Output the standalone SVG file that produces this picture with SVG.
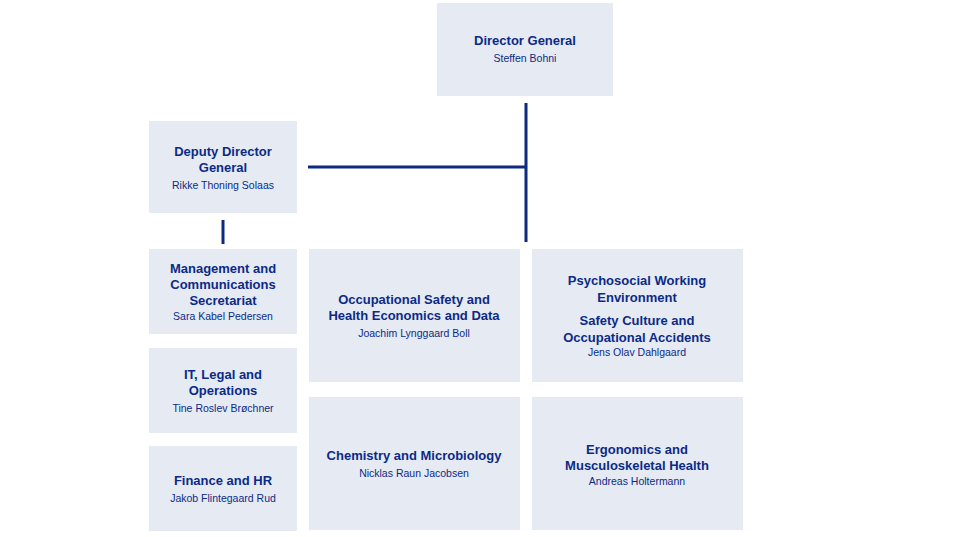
<svg xmlns="http://www.w3.org/2000/svg" width="955" height="537" viewBox="0 0 955 537">
<style>
.b{fill:#e6eaf3}
text{font-family:"Liberation Sans",Arial,sans-serif;fill:#0b2a87;text-anchor:middle}
.t{font-size:13px;font-weight:bold}
.s{font-size:10.5px}
.c{stroke:#0b2a80;stroke-width:3;fill:none}
</style>
<rect width="955" height="537" fill="#fff"/>
<g id="connectors">
<path class="c" d="M526 103V242M308 167H526M223 220V244"/>
</g>
<g id="dg"><rect class="b" x="437" y="3" width="176" height="93"/><text class="t" x="525" y="45">Director General</text><text class="s" x="525" y="62">Steffen Bohni</text></g>
<g id="ddg"><rect class="b" x="149" y="121" width="148" height="92"/><text class="t" x="223" y="156">Deputy Director</text><text class="t" x="223" y="172">General</text><text class="s" x="223" y="189">Rikke Thoning Solaas</text></g>
<g id="mgmt"><rect class="b" x="149" y="249" width="148" height="85"/><text class="t" x="223" y="273">Management and</text><text class="t" x="223" y="289">Communications</text><text class="t" x="223" y="305">Secretariat</text><text class="s" x="223" y="320">Sara Kabel Pedersen</text></g>
<g id="it"><rect class="b" x="149" y="348" width="148" height="85"/><text class="t" x="223" y="379">IT, Legal and</text><text class="t" x="223" y="395">Operations</text><text class="s" x="223" y="412">Tine Roslev Brøchner</text></g>
<g id="fin"><rect class="b" x="149" y="446" width="148" height="85"/><text class="t" x="223" y="485">Finance and HR</text><text class="s" x="223" y="502">Jakob Flintegaard Rud</text></g>
<g id="osh"><rect class="b" x="309" y="249" width="211" height="133"/><text class="t" x="414" y="304">Occupational Safety and</text><text class="t" x="414" y="320">Health Economics and Data</text><text class="s" x="414" y="337">Joachim Lynggaard Boll</text></g>
<g id="chem"><rect class="b" x="309" y="397" width="211" height="133"/><text class="t" x="414" y="460">Chemistry and Microbiology</text><text class="s" x="414" y="477">Nicklas Raun Jacobsen</text></g>
<g id="psych"><rect class="b" x="532" y="249" width="211" height="133"/><text class="t" x="637" y="285">Psychosocial Working</text><text class="t" x="637" y="302">Environment</text><text class="t" x="637" y="325">Safety Culture and</text><text class="t" x="637" y="342">Occupational Accidents</text><text class="s" x="637" y="356">Jens Olav Dahlgaard</text></g>
<g id="ergo"><rect class="b" x="532" y="397" width="211" height="133"/><text class="t" x="637" y="454">Ergonomics and</text><text class="t" x="637" y="470">Musculoskeletal Health</text><text class="s" x="637" y="485">Andreas Holtermann</text></g>
</svg>
